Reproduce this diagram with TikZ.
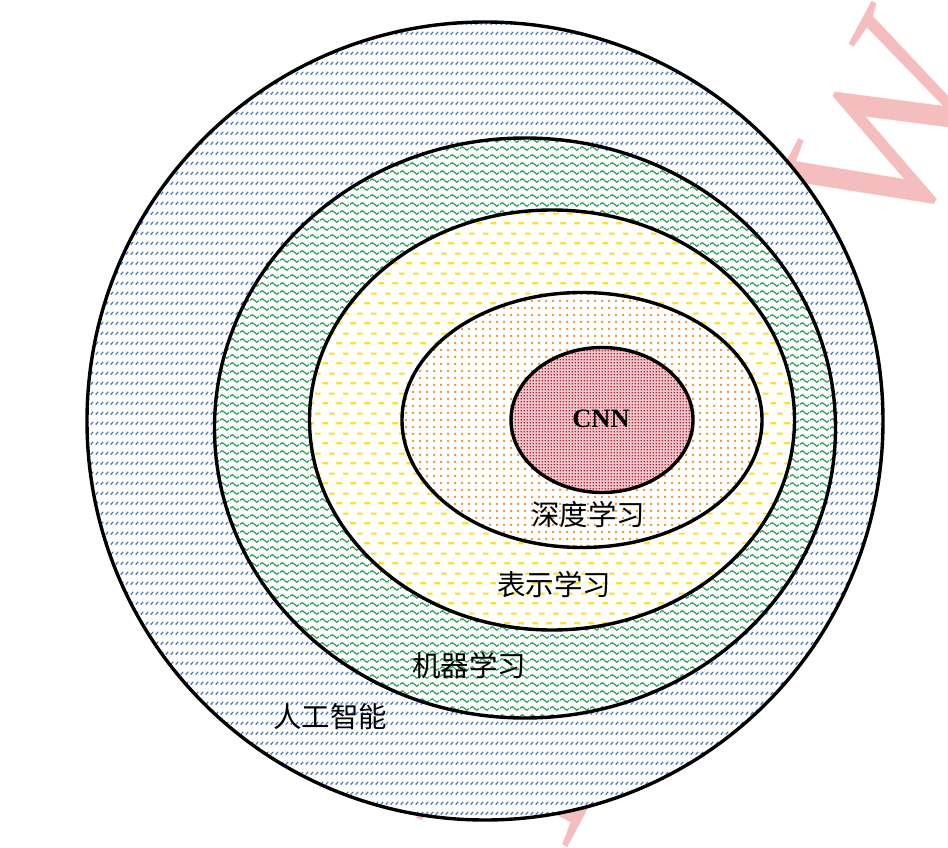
\documentclass[tikz,border=0pt]{standalone}
\usepackage{fontspec}
\setmainfont{Liberation Serif}
\newfontfamily\cjk{Noto Sans CJK SC}
\usetikzlibrary{shapes.geometric,patterns}

\definecolor{pblue}{RGB}{60,110,185}
\definecolor{pgreen}{RGB}{50,155,85}
\definecolor{pyellow}{RGB}{250,228,30}
\definecolor{porange}{RGB}{232,160,70}
\definecolor{pred}{RGB}{170,40,55}
\definecolor{ppink}{RGB}{242,198,202}
\definecolor{wmark}{RGB}{245,190,190}

\pgfdeclarepatternformonly{bluedash}{\pgfpointorigin}{\pgfpoint{5pt}{10pt}}{\pgfpoint{5pt}{10pt}}{%
  \pgfsetlinewidth{1.3pt}%
  \pgfpathmoveto{\pgfpoint{0.8pt}{3.7pt}}\pgfpathlineto{\pgfpoint{3.8pt}{6.7pt}}\pgfusepath{stroke}}
\pgfdeclarepatternformonly{greenwave}{\pgfpoint{0pt}{0pt}}{\pgfpoint{10pt}{8pt}}{\pgfpoint{10pt}{8pt}}{%
  \pgfsetlinewidth{1.3pt}%
  \pgfpathmoveto{\pgfpoint{0pt}{4pt}}%
  \pgfpathcurveto{\pgfpoint{1.7pt}{6.7pt}}{\pgfpoint{3.3pt}{6.7pt}}{\pgfpoint{5pt}{4pt}}%
  \pgfpathcurveto{\pgfpoint{6.7pt}{1.3pt}}{\pgfpoint{8.3pt}{1.3pt}}{\pgfpoint{10pt}{4pt}}%
  \pgfusepath{stroke}}
\pgfdeclarepatternformonly{yellowdash}{\pgfpointorigin}{\pgfpoint{14pt}{20pt}}{\pgfpoint{14pt}{20pt}}{%
  \pgfsetlinewidth{2.2pt}%
  \pgfpathmoveto{\pgfpoint{0.5pt}{5pt}}\pgfpathlineto{\pgfpoint{6.5pt}{5pt}}%
  \pgfpathmoveto{\pgfpoint{7.5pt}{15pt}}\pgfpathlineto{\pgfpoint{13.5pt}{15pt}}%
  \pgfusepath{stroke}}
\pgfdeclarepatternformonly{orangedot}{\pgfpointorigin}{\pgfpoint{6.5pt}{6.5pt}}{\pgfpoint{6.5pt}{6.5pt}}{%
  \pgfpathrectangle{\pgfpoint{2.2pt}{2.2pt}}{\pgfpoint{2.2pt}{2.2pt}}\pgfusepath{fill}}
\pgfdeclarepatternformonly{reddot}{\pgfpointorigin}{\pgfpoint{3.2pt}{3.2pt}}{\pgfpoint{3.2pt}{3.2pt}}{%
  \pgfpathrectangle{\pgfpoint{0.7pt}{0.7pt}}{\pgfpoint{1.7pt}{1.7pt}}\pgfusepath{fill}}

\tikzset{
  ring/.style={ellipse, draw=black, line width=3.4pt, inner sep=0pt},
  lbl/.style={inner sep=0pt, font=\cjk\fontsize{28.5}{28.5}\selectfont},
  wm/.style={inner sep=0pt, text=wmark, font=\fontsize{225}{225}\selectfont, rotate=62}
}

\begin{document}
\begin{tikzpicture}[x=1pt, y=-1pt]
\useasboundingbox[fill=white] (0,0) rectangle (948,848);
% watermark (behind the diagram)
\node[wm, anchor=base west] (wmtop) at (902,258) {W};
\node[wm, anchor=base west] (wmbot) at (545,890) {Y};
% nested regions
\node[ring, minimum width=796pt, minimum height=798pt,
      preaction={fill=white}, pattern=bluedash, pattern color=pblue] (ai) at (485,421) {};
\node[ring, minimum width=621pt, minimum height=580pt,
      preaction={fill=white}, pattern=greenwave, pattern color=pgreen] (ml) at (525,428) {};
\node[ring, minimum width=485pt, minimum height=420pt,
      preaction={fill=white}, pattern=yellowdash, pattern color=pyellow] (rl) at (552,420) {};
\node[ring, minimum width=360pt, minimum height=255pt,
      preaction={fill=white}, pattern=orangedot, pattern color=porange] (dl) at (582,420) {};
\node[ring, minimum width=182pt, minimum height=145pt,
      preaction={fill=ppink}, pattern=reddot, pattern color=pred] (cnn) at (602,420) {};
% labels
\node[inner sep=0pt, font=\bfseries\fontsize{26.5}{26.5}\selectfont] (cnnt) at (601,419) {CNN};
\node[lbl] (dlt) at (588,515) {深度学习};
\node[lbl] (rlt) at (554,585) {表示学习};
\node[lbl] (mlt) at (469,666) {机器学习};
\node[lbl] (ait) at (330,717) {人工智能};
\end{tikzpicture}
\end{document}
